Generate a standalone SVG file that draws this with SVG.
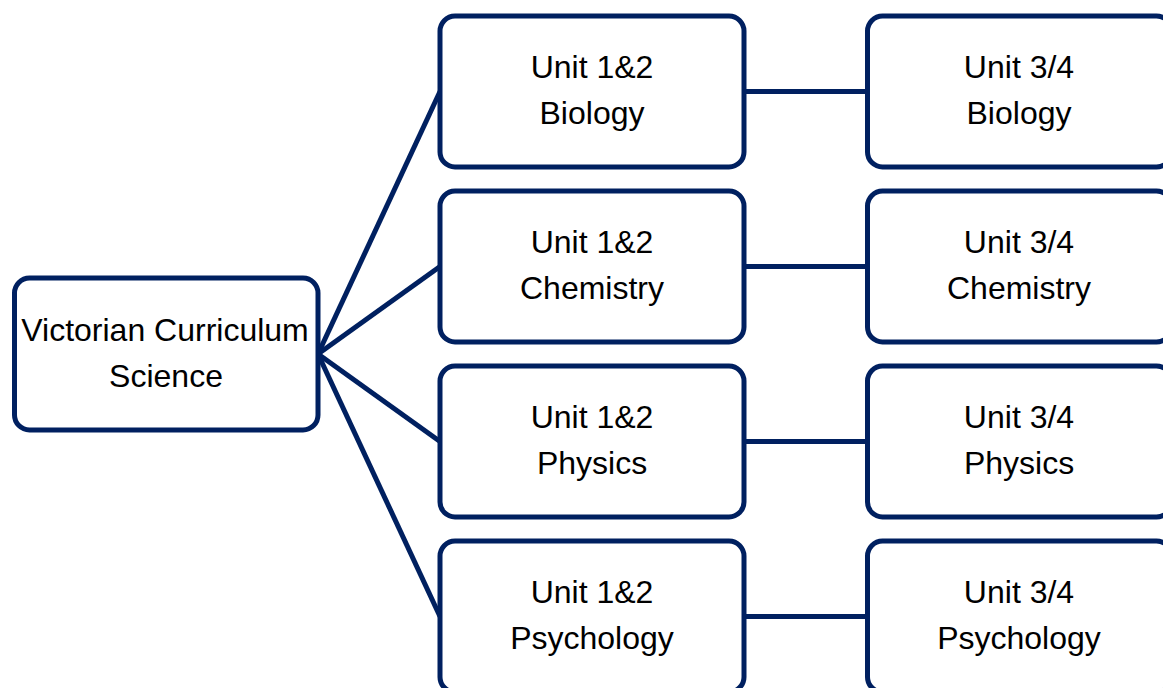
<svg xmlns="http://www.w3.org/2000/svg" width="1163" height="688" viewBox="0 0 1163 688">
<style>
.box{fill:#fff;stroke:#002060;stroke-width:5}
.ln{stroke:#002060;stroke-width:5;fill:none}
text{font-family:"Liberation Sans",Arial,sans-serif;font-size:32px;fill:#000;text-anchor:middle}
</style>
<rect width="1163" height="688" fill="#fff"/>
<g id="connectors">
<line class="ln" x1="318" y1="354" x2="440" y2="91.5"/>
<line class="ln" x1="318" y1="354" x2="440" y2="266.5"/>
<line class="ln" x1="318" y1="354" x2="440" y2="441.5"/>
<line class="ln" x1="318" y1="354" x2="440" y2="616.5"/>
<line class="ln" x1="744" y1="91.5" x2="867.5" y2="91.5"/>
<line class="ln" x1="744" y1="266.5" x2="867.5" y2="266.5"/>
<line class="ln" x1="744" y1="441.5" x2="867.5" y2="441.5"/>
<line class="ln" x1="744" y1="616.5" x2="867.5" y2="616.5"/>
</g>
<g id="root">
<rect class="box" x="14.5" y="278" width="303.5" height="152" rx="15"/>
<text x="165" y="341">Victorian Curriculum</text>
<text x="166" y="387">Science</text>
</g>
<g id="bio12">
<rect class="box" x="440" y="16" width="304" height="151" rx="15"/>
<text x="592" y="78">Unit 1&amp;2</text>
<text x="592" y="124">Biology</text>
</g>
<g id="chem12">
<rect class="box" x="440" y="191" width="304" height="151" rx="15"/>
<text x="592" y="253">Unit 1&amp;2</text>
<text x="592" y="299">Chemistry</text>
</g>
<g id="phys12">
<rect class="box" x="440" y="366" width="304" height="151" rx="15"/>
<text x="592" y="428">Unit 1&amp;2</text>
<text x="592" y="474">Physics</text>
</g>
<g id="psych12">
<rect class="box" x="440" y="541" width="304" height="151" rx="15"/>
<text x="592" y="603">Unit 1&amp;2</text>
<text x="592" y="649">Psychology</text>
</g>
<g id="bio34">
<rect class="box" x="867.5" y="16" width="304" height="151" rx="15"/>
<text x="1019" y="78">Unit 3/4</text>
<text x="1019" y="124">Biology</text>
</g>
<g id="chem34">
<rect class="box" x="867.5" y="191" width="304" height="151" rx="15"/>
<text x="1019" y="253">Unit 3/4</text>
<text x="1019" y="299">Chemistry</text>
</g>
<g id="phys34">
<rect class="box" x="867.5" y="366" width="304" height="151" rx="15"/>
<text x="1019" y="428">Unit 3/4</text>
<text x="1019" y="474">Physics</text>
</g>
<g id="psych34">
<rect class="box" x="867.5" y="541" width="304" height="151" rx="15"/>
<text x="1019" y="603">Unit 3/4</text>
<text x="1019" y="649">Psychology</text>
</g>
</svg>
